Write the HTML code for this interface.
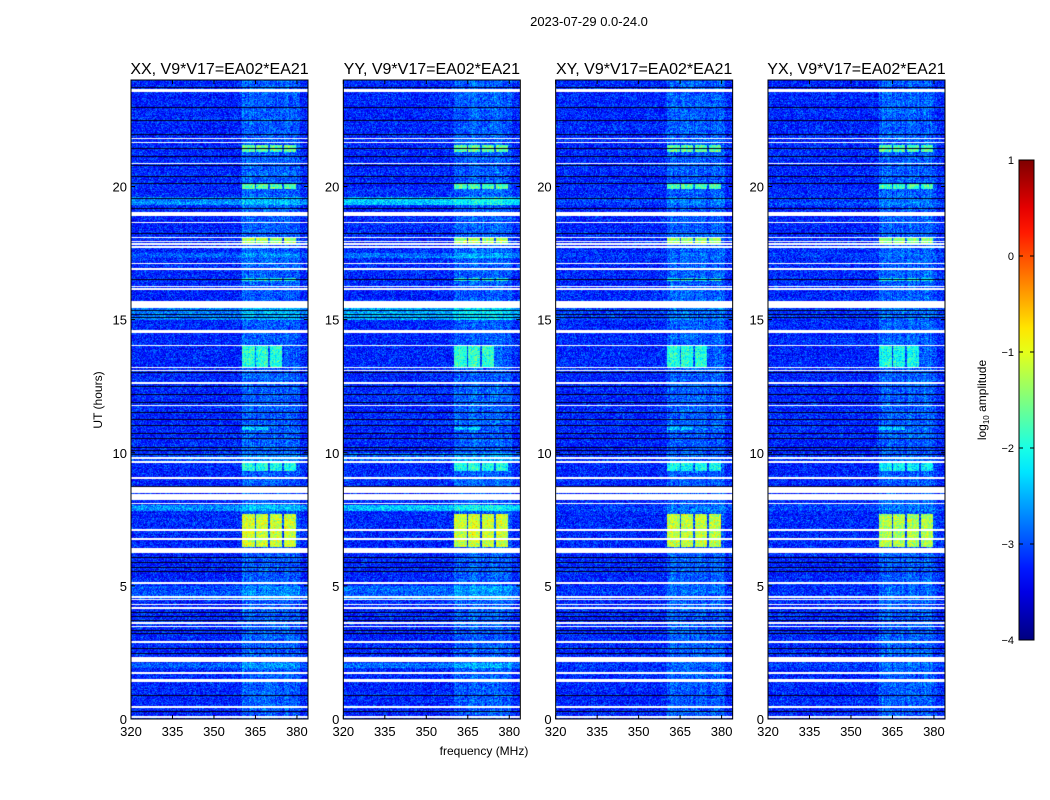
<!DOCTYPE html>
<html><head><meta charset="utf-8"><style>
body{margin:0;background:#fff;width:1050px;height:800px;overflow:hidden;position:relative;font-family:"Liberation Sans","DejaVu Sans",sans-serif}
canvas{position:absolute}
svg{position:absolute;left:0;top:0}
</style></head><body>
<canvas id="c0" width="177" height="639"></canvas>
<canvas id="c1" width="177" height="639"></canvas>
<canvas id="c2" width="177" height="639"></canvas>
<canvas id="c3" width="177" height="639"></canvas>
<svg id="ov" width="1050" height="800"></svg>
<script>
const panelTitles=["XX, V9*V17=EA02*EA21","YY, V9*V17=EA02*EA21","XY, V9*V17=EA02*EA21","YX, V9*V17=EA02*EA21"];
const xTicks=[320,335,350,365,380];
const yTicks=[0,5,10,15,20];
const cbTicks=[1,0,-1,-2,-3,-4];
const broadbandScale=[1,1.6,0.3,0.3];
const rfiScale=[1,1,0.95,0.9];
const flaggedWhite=[[23.55,23.65],[21.78,21.84],[21.62,21.68],[20.84,20.9],[18.88,19.05],[18.62,18.68],[18.05,18.1],[17.93,17.97],[17.82,17.86],[17.7,17.76],[17.08,17.14],[16.88,16.94],[16.22,16.28],[16.12,16.17],[15.45,15.7],[14.48,14.62],[14.0,14.06],[13.17,13.23],[13.07,13.12],[12.58,12.65],[11.75,11.81],[9.78,9.83],[9.63,9.68],[9.02,9.08],[8.5,8.7],[8.22,8.44],[8.07,8.12],[7.06,7.12],[6.72,6.78],[6.22,6.42],[5.07,5.13],[4.55,4.61],[4.47,4.5],[4.27,4.33],[4.12,4.2],[3.57,3.63],[3.45,3.5],[2.87,2.93],[2.13,2.33],[1.7,1.76],[1.38,1.52],[0.42,0.48],[0.05,0.1]];
const darkRows=[23.75,23.0,22.48,21.99,21.46,21.13,20.79,20.41,20.15,19.55,19.21,18.27,16.51,15.35,15.23,15.08,13.02,12.5,12.2,11.9,11.52,11.25,11.03,10.75,10.54,10.2,10.09,9.94,8.74,6.08,5.9,5.7,5.55,4.01,3.85,3.7,3.35,3.22,2.66,2.48,0.9,0.3];
const broadbandRows=[[19.3,19.6,0.5],[15.0,15.45,0.4],[7.8,8.05,0.5],[4.5,5.0,0.2],[1.9,2.1,0.25],[17.3,17.5,0.25],[9.7,10.0,0.2]];
const rfiBlocks=[[360.3,364.7],[365.2,369.5],[370.3,374.6],[375.3,379.6]];
const rfiEvents=[[21.3,21.55,1.3,4],[19.9,20.1,1.2,4],[17.85,18.05,1.6,4],[16.45,16.55,0.9,4],[13.2,14.0,1.0,3],[9.3,9.6,0.9,4],[6.45,7.7,1.8,4],[10.85,10.95,0.6,2]];
const F0=320,F1=384,T0=0,T1=24,PW=177,PH=639,PT=80;
const panelLeft=i=>131+i*212.33;
const fx=f=>(f-F0)/(F1-F0)*PW;
const ty=t=>(1-(t-T0)/(T1-T0))*PH;
function jet(t){t=Math.max(0,Math.min(1,t));
 const r=Math.max(0,Math.min(1,1.5-Math.abs(4*t-3))),g=Math.max(0,Math.min(1,1.5-Math.abs(4*t-2))),b=Math.max(0,Math.min(1,1.5-Math.abs(4*t-1)));
 return [r*255|0,g*255|0,b*255|0];}
function hsh(a,b,c){let h=(a*374761393+b*668265263+c*2147483647)|0;h=(h^(h>>>13))*1274126177|0;h^=h>>>16;return (h>>>0)/4294967296;}
for(let p=0;p<4;p++){
 const cv=document.getElementById('c'+p);
 cv.style.left=panelLeft(p)+'px';cv.style.top=PT+'px';
 const ctx=cv.getContext('2d');const im=ctx.createImageData(PW,PH);const d=im.data;
 for(let y=0;y<PH;y++){
  const t=T1-(y+0.5)/PH*(T1-T0);
  let white=flaggedWhite.some(w=>t>=w[0]&&t<=w[1]);
  let dark=darkRows.some(r=>Math.abs(ty(r)-y)<0.5);
  let bb=0;broadbandRows.forEach(b=>{if(t>=b[0]&&t<=b[1])bb+=b[2]*broadbandScale[p];});
  const rowOff=(hsh(y,7,p)-0.5)*0.15;
  for(let x=0;x<PW;x++){
   const i=(y*PW+x)*4;let c;
   if(white)c=[255,255,255];else if(dark)c=[0,0,30];else{
    const f=F0+(x+0.5)/PW*(F1-F0);
    let v=-3.2+rowOff+bb+(hsh(x,y,p)+hsh(y,x,p+9)-1)*0.6;
    let bi=rfiBlocks.findIndex(b=>f>=b[0]&&f<=b[1]);
    if(f>=360&&f<=381)v+=0.1+hsh(x,3,p)*0.25;
    if(bi>=0){v+=0.05;rfiEvents.forEach(e=>{if(t>=e[0]&&t<=e[1]&&bi<e[3])v+=e[2]*rfiScale[p];});}
    c=jet((v+4)/5);}
   d[i]=c[0];d[i+1]=c[1];d[i+2]=c[2];d[i+3]=255;}}
 ctx.putImageData(im,0,0);}
const ov=document.getElementById('ov');const NS='http://www.w3.org/2000/svg';
function el(tag,attrs,txt){const e=document.createElementNS(NS,tag);for(const k in attrs)e.setAttribute(k,attrs[k]);if(txt!==undefined)e.textContent=txt;ov.appendChild(e);return e;}
let e=el('text',{x:589,y:26,'font-size':13,'text-anchor':'middle'},'2023-07-29 0.0-24.0');


for(let p=0;p<4;p++){
 const L=panelLeft(p);
 e=el('rect',{x:L,y:PT,width:PW,height:PH,fill:'none',stroke:'#000','stroke-width':1});
 
 
 e=el('text',{x:L+PW/2,y:74,'font-size':16,'text-anchor':'middle'},panelTitles[p]);
 
 
 xTicks.forEach(v=>{const X=L+fx(v);
  el('line',{x1:X,y1:PT+PH,x2:X,y2:PT+PH-4,stroke:'#000'});el('line',{x1:X,y1:PT,x2:X,y2:PT+4,stroke:'#000'});
  e=el('text',{x:X,y:736,'font-size':13,'text-anchor':'middle'},v);
  
  });
 yTicks.forEach(v=>{const Y=PT+ty(v);
  el('line',{x1:L,y1:Y,x2:L+4,y2:Y,stroke:'#000'});el('line',{x1:L+PW,y1:Y,x2:L+PW-4,y2:Y,stroke:'#000'});
  e=el('text',{x:L-4,y:Y+5,'font-size':13,'text-anchor':'end'},v);
  
  });
}
e=el('text',{x:484,y:755,'font-size':12,'text-anchor':'middle'},'frequency (MHz)');


e=el('text',{x:102,y:400,'font-size':12,'text-anchor':'middle',transform:'rotate(-90 102 400)'},'UT (hours)');


const CBX=1019,CBW=15,CBT=160,CBH=480;
const defs=el('defs',{});const lg=document.createElementNS(NS,'linearGradient');
lg.setAttribute('id','jg');lg.setAttribute('x1',0);lg.setAttribute('y1',1);lg.setAttribute('x2',0);lg.setAttribute('y2',0);defs.appendChild(lg);
for(let k=0;k<=20;k++){const c=jet(k/20);const s=document.createElementNS(NS,'stop');s.setAttribute('offset',k/20);s.setAttribute('stop-color','rgb('+c.join(',')+')');lg.appendChild(s);}
e=el('rect',{x:CBX,y:CBT,width:CBW,height:CBH,fill:'url(#jg)',stroke:'#000'});


cbTicks.forEach(v=>{const Y=CBT+(1-v)/5*CBH;
 el('line',{x1:CBX,y1:Y,x2:CBX+4,y2:Y,stroke:'#000'});el('line',{x1:CBX+CBW,y1:Y,x2:CBX+CBW-4,y2:Y,stroke:'#000'});
 e=el('text',{x:CBX-5,y:Y+4,'font-size':11,'text-anchor':'end'},v<0?'\u2212'+(-v):v);
 
 });
e=el('text',{x:986,y:400,'font-size':12,'text-anchor':'middle',transform:'rotate(-90 986 400)'});


e.innerHTML='log<tspan font-size="8" dy="3">10</tspan><tspan dy="-3"> amplitude</tspan>';
</script>
</body></html>
